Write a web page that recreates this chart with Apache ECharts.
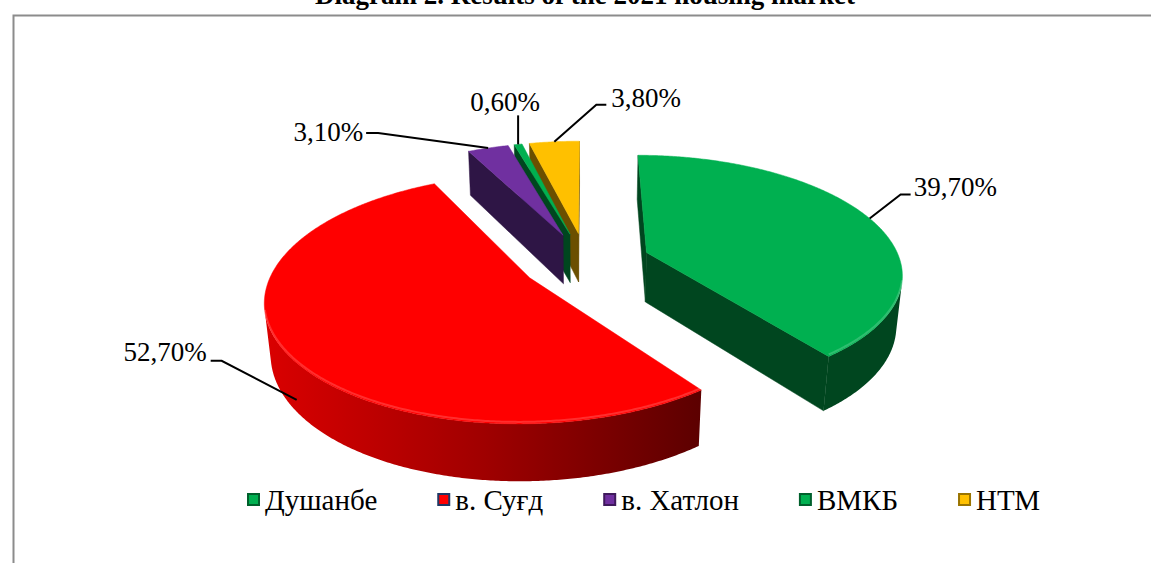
<!DOCTYPE html>
<html><head><meta charset="utf-8">
<script src="https://cdn.jsdelivr.net/npm/echarts@6/dist/echarts.min.js"></script>
<style>html,body{margin:0;padding:0;background:#fff}#c{width:1151px;height:563px}</style>
</head><body><div id="c"></div>
<script>
// ---- data ----
const categories = ['Душанбе', 'в. Суғд', 'в. Хатлон', 'ВМКБ', 'НТМ'];
const values = [39.7, 52.7, 3.1, 0.6, 3.8];
const titleText = 'Diagram 2. Results of the 2021 housing market';

// ---- styles ----
const topColors = ['#00B050', '#FF0000', '#7030A0', '#00B050', '#FFC000'];
const cutColors = ['#00461F', '#7A0000', '#2E1545', '#00461F', '#6B4F00'];
const legendBorders = ['#00602C', '#1F3864', '#3F1A5C', '#00602C', '#9A7400'];
const FONT = 'Liberation Serif';

// 3D view geometry (pie radius = 1)
const G = { cxF: 0.509, cyF: 0.465, s: 254, D: 5.4, phi: 27.2 * Math.PI / 180, h: 0.225, ex: 0.255 };

// label layout: anchor angle shift (deg), anchor depth fraction, elbow offset, tail length, text offset, align
const labelLayout = [
  { ang: 0, yf: 0, elbow: [31, -24], hx: 10, t: [3, -7], align: 'left' },
  { ang: -4.8, yf: 0.75, elbow: [-75, -39], hx: -11, t: [-4, -9], align: 'right' },
  { ang: 0, yf: 0, elbow: [-110, -15], hx: -12, t: [-3, -1], align: 'right' },
  { ang: 0, yf: 0, elbow: [0, -29], hx: 0, t: [-13, -13], align: 'center' },
  { ang: 0, yf: 0, elbow: [42, -37], hx: 10, t: [5, -7], align: 'left' }
];

const total = values.reduce((a, b) => a + b, 0);
const sweeps = values.map(v => v / total * 360);
const starts = [];
sweeps.reduce((acc, sw, i) => { starts[i] = acc; return acc + sw; }, 0);
const rad = d => d * Math.PI / 180;
const fmt = v => v.toFixed(2).replace('.', ',') + '%';

function makeProj(W, H) {
  const cx = G.cxF * W, cy = G.cyF * H, f = G.s * G.D, sp = Math.sin(G.phi), cp = Math.cos(G.phi);
  return function (X, Y, Z) {
    const yc = Y * cp + Z * sp;
    const zc = -Y * sp + Z * cp + G.D;
    return [cx + f * X / zc, cy - f * yc / zc];
  };
}
const cam = [0, G.D * Math.sin(G.phi), -G.D * Math.cos(G.phi)];
const faces = (nx, nz, px, pz) => nx * (cam[0] - px) + nz * (cam[2] - pz) > 0;

function outerFill(k) {
  if (k === 1) {
    return new echarts.graphic.LinearGradient(0, 0, 1, 0, [
      { offset: 0, color: '#DA0000' }, { offset: 0.5, color: '#A00000' }, { offset: 1, color: '#5C0000' }
    ]);
  }
  return cutColors[k];
}

function renderSlice(k, api) {
  const P = makeProj(api.getWidth(), api.getHeight());
  const a0 = starts[k], a1 = starts[k] + sweeps[k], am = (a0 + a1) / 2;
  const ox = G.ex * Math.sin(rad(am)), oz = G.ex * Math.cos(rad(am));
  const pt = (th, r, Y) => P(ox + r * Math.sin(rad(th)), Y, oz + r * Math.cos(rad(th)));
  const children = [];
  // radial cut walls
  [[a0, -90], [a1, 90]].forEach(([a, d]) => {
    const na = rad(a + d);
    const mx = ox + 0.5 * Math.sin(rad(a)), mz = oz + 0.5 * Math.cos(rad(a));
    if (faces(Math.sin(na), Math.cos(na), mx, mz)) {
      children.push({ type: 'polygon', z2: 1,
        shape: { points: [pt(a, 0, 0), pt(a, 1, 0), pt(a, 1, -G.h), pt(a, 0, -G.h)] },
        style: { fill: cutColors[k], stroke: cutColors[k], lineWidth: 0.5 } });
    }
  });
  // outer curved wall
  const n = Math.max(2, Math.ceil((a1 - a0) / 0.5));
  let run = [];
  const rims = [];
  const flush = () => {
    if (run.length > 1) {
      const top = run.map(t => pt(t, 1, 0));
      const bot = run.slice().reverse().map(t => pt(t, 1, -G.h));
      children.push({ type: 'polygon', z2: 2, shape: { points: top.concat(bot) },
        style: { fill: outerFill(k) } });
      rims.push(top);
    }
    run = [];
  };
  for (let j = 0; j <= n; j++) {
    const t = a0 + (a1 - a0) * j / n;
    const s = Math.sin(rad(t)), c = Math.cos(rad(t));
    if (faces(s, c, ox + s, oz + c)) run.push(t); else flush();
  }
  flush();
  // top face
  const topPts = [pt(a0, 0, 0)];
  for (let j = 0; j <= n; j++) topPts.push(pt(a0 + (a1 - a0) * j / n, 1, 0));
  children.push({ type: 'polygon', z2: 5, shape: { points: topPts },
    style: { fill: topColors[k], stroke: topColors[k], lineWidth: 0.5 } });
  // soft bevel highlight along the visible front rim
  rims.forEach(r => children.push({ type: 'polyline', z2: 6, shape: { points: r.map(p => [p[0], p[1] - 2]) },
    style: { stroke: 'rgba(255,255,255,0.18)', lineWidth: 2, fill: null } }));
  // label + leader line
  const L = labelLayout[k];
  const A = pt(am + L.ang, 1, -G.h * L.yf);
  const E = [A[0] + L.elbow[0], A[1] + L.elbow[1]];
  const T = [E[0] + L.hx, E[1]];
  children.push({ type: 'polyline', z2: 20, shape: { points: [A, E, T] },
    style: { stroke: '#000', lineWidth: 2, fill: null } });
  children.push({ type: 'text', z2: 21,
    style: { text: fmt(values[k]), x: T[0] + L.t[0], y: T[1] + L.t[1], fill: '#000',
      fontSize: 27, fontFamily: FONT, align: L.align, verticalAlign: 'middle' } });
  return { type: 'group', children };
}

// drawing order: far slices first
const depthRank = values.map((v, i) => i)
  .sort((i, j) => Math.cos(rad(starts[j] + sweeps[j] / 2)) - Math.cos(rad(starts[i] + sweeps[i] / 2)));
const zOf = [];
depthRank.forEach((idx, r) => { zOf[idx] = 2 + r; });

const series = categories.map((name, k) => ({
  type: 'custom', name, coordinateSystem: 'none', z: zOf[k],
  data: [[values[k]]],
  itemStyle: { color: topColors[k], borderColor: legendBorders[k], borderWidth: 1.5 },
  renderItem: (params, api) => renderSlice(k, api)
}));

const chart = echarts.init(document.getElementById('c'), null, { renderer: 'svg' });
chart.setOption({
  animation: false,
  backgroundColor: '#fff',
  title: { text: titleText, left: 585, textAlign: 'center', top: -19, padding: 0,
    textStyle: { fontFamily: FONT, fontSize: 27, fontWeight: 'bold', color: '#000' } },
  graphic: [{ type: 'rect', left: 11, top: 13, z: 0, silent: true,
    shape: { width: 1200, height: 600 }, style: { fill: 'none', stroke: '#8C8C8C', lineWidth: 2 } }],
  legend: { data: categories, left: 247, top: 485, padding: 0, itemGap: 60,
    itemWidth: 11, itemHeight: 11, icon: 'rect', selectedMode: false,
    textStyle: { fontFamily: FONT, fontSize: 29, color: '#000', padding: [0, 0, 0, 1] } },
  series
});
</script></body></html>
